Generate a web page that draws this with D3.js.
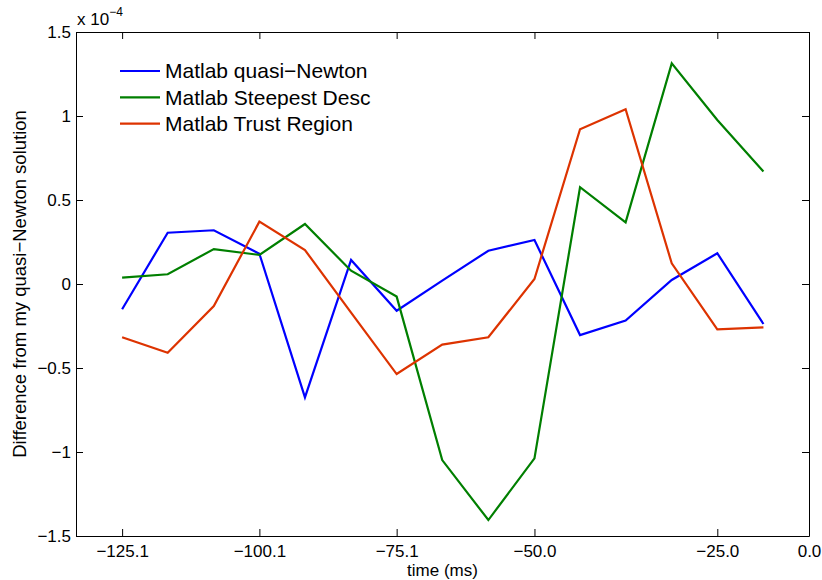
<!DOCTYPE html>
<html>
<head>
<meta charset="utf-8">
<script src="https://cdn.jsdelivr.net/npm/d3@7"></script>
<style>
  body { margin: 0; background: #fff; }
  svg { font-family: "Liberation Sans", Arial, sans-serif; }
  .axis path, .axis line { stroke: #000; }
  .axis text { fill: #000; }
</style>
</head>
<body>
<div id="chart"></div>
<script>
// sample times (ms)
var times = [-125.1, -116.8, -108.4, -100.1, -91.8, -83.4, -75.1, -66.8, -58.4, -50.0, -41.7, -33.4, -25.0, -16.7, -8.3];

// difference from my quasi-Newton solution, in units of 1e-4
var quasiNewton = [-0.15, 0.305, 0.32, 0.18, -0.675, 0.143, -0.159, 0.02, 0.198, 0.262, -0.304, -0.218, 0.024, 0.183, -0.238];
var steepestDesc = [0.038, 0.058, 0.208, 0.173, 0.357, 0.079, -0.075, -1.048, -1.405, -1.038, 0.576, 0.367, 1.313, 0.976, 0.669];
var trustRegion = [-0.317, -0.409, -0.131, 0.371, 0.202, -0.17, -0.536, -0.361, -0.317, 0.03, 0.921, 1.04, 0.123, -0.27, -0.258];

var seriesNames = ["Matlab quasi\u2212Newton", "Matlab Steepest Desc", "Matlab Trust Region"];
var seriesColors = ["#0000ff", "#007f00", "#dd3300"];

// tick positions and the labels shown under them
var xTickValues = [-125.1, -100.1, -75.1, -50.0, -16.7, 0.0];
var xTickLabels = ["\u2212125.1", "\u2212100.1", "\u221275.1", "\u221250.0", "\u221225.0", "0.0"];
var yTickValues = [-1.5, -1, -0.5, 0, 0.5, 1, 1.5];
var yTickLabels = ["\u22121.5", "\u22121", "\u22120.5", "0", "0.5", "1", "1.5"];

var width = 822, height = 580;
var margin = {top: 32, right: 13, bottom: 44, left: 76};
var plotW = width - margin.left - margin.right;
var plotH = height - margin.top - margin.bottom;

var svg = d3.select("#chart").append("svg")
  .attr("width", width)
  .attr("height", height);

var g = svg.append("g")
  .attr("transform", "translate(" + margin.left + "," + margin.top + ")");

var xScale = d3.scaleLinear().domain([-133.5, 0]).range([0, plotW]);
var yScale = d3.scaleLinear().domain([-1.5, 1.5]).range([plotH, 0]);

var fontSize = 17;
var labelSize = 18.5;

// bottom axis with labels
var xAxis = d3.axisBottom(xScale)
  .tickValues(xTickValues)
  .tickFormat(function(d, i) { return xTickLabels[i]; })
  .tickSizeInner(-7)
  .tickSizeOuter(0)
  .tickPadding(9);
g.append("g")
  .attr("class", "axis x-axis")
  .attr("transform", "translate(0," + plotH + ")")
  .call(xAxis)
  .call(function(s) { s.selectAll("text").style("font-size", fontSize + "px"); });

// top box ticks
g.append("g")
  .attr("class", "axis")
  .call(d3.axisTop(xScale).tickValues(xTickValues).tickFormat("").tickSizeInner(-7).tickSizeOuter(0));

var yAxis = d3.axisLeft(yScale)
  .tickValues(yTickValues)
  .tickFormat(function(d, i) { return yTickLabels[i]; })
  .tickSizeInner(-7)
  .tickSizeOuter(0)
  .tickPadding(5);
g.append("g")
  .attr("class", "axis y-axis")
  .call(yAxis)
  .call(function(s) { s.selectAll("text").style("font-size", fontSize + "px"); });

// right box ticks
g.append("g")
  .attr("class", "axis")
  .attr("transform", "translate(" + plotW + ",0)")
  .call(d3.axisRight(yScale).tickValues(yTickValues).tickFormat("").tickSizeInner(-7).tickSizeOuter(0));

// lines
var allSeries = [quasiNewton, steepestDesc, trustRegion];
var line = d3.line()
  .x(function(d, i) { return xScale(times[i]); })
  .y(function(d) { return yScale(d); });

allSeries.forEach(function(vals, idx) {
  g.append("path")
    .datum(vals)
    .attr("fill", "none")
    .attr("stroke", seriesColors[idx])
    .attr("stroke-width", 2.2)
    .attr("stroke-linejoin", "miter")
    .attr("d", line);
});

// legend
var legend = g.append("g").attr("transform", "translate(44,39)");
seriesNames.forEach(function(name, i) {
  legend.append("line")
    .attr("x1", 0).attr("x2", 40)
    .attr("y1", i * 26.3).attr("y2", i * 26.3)
    .attr("stroke", seriesColors[i])
    .attr("stroke-width", 2.2);
  legend.append("text")
    .attr("x", 45)
    .attr("y", i * 26.3)
    .attr("dy", "0.35em")
    .style("font-size", "21px")
    .text(name);
});

// exponent label
var expo = svg.append("text")
  .attr("x", 77)
  .attr("y", 25)
  .style("font-size", fontSize + "px");
expo.append("tspan").text("x 10");
expo.append("tspan").attr("dy", -9).style("font-size", "12px").text("\u22124");

// axis titles
svg.append("text")
  .attr("x", margin.left + plotW / 2)
  .attr("y", 576)
  .attr("text-anchor", "middle")
  .style("font-size", "17px")
  .text("time (ms)");

svg.append("text")
  .attr("transform", "rotate(-90)")
  .attr("x", -(margin.top + plotH / 2))
  .attr("y", 26)
  .attr("text-anchor", "middle")
  .style("font-size", labelSize + "px")
  .text("Difference from my quasi\u2212Newton solution");
</script>
</body>
</html>
